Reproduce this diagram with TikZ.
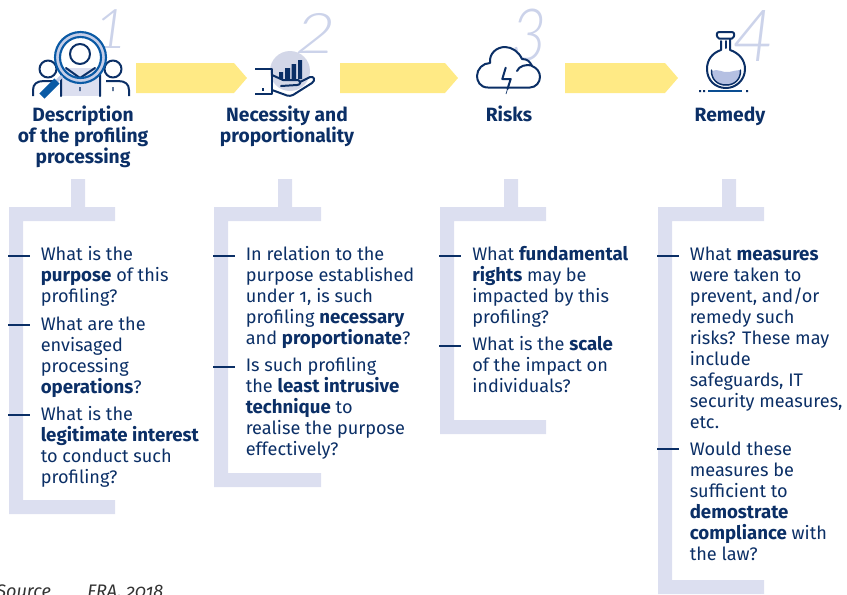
\documentclass[tikz,border=0pt]{standalone}
\usepackage{fontspec}
\setmainfont{Fira Sans}[Numbers=OldStyle,BoldFeatures={Scale=1.03}]
\newfontfamily\numfont{Lato Light Italic}
\definecolor{navy}{HTML}{0B2F66}
\definecolor{pale}{HTML}{DCDFF0}
\definecolor{yel}{HTML}{FFEA85}
\definecolor{digit}{HTML}{CCD3EA}
\definecolor{lens}{HTML}{0A5AA5}
\definecolor{lensring}{HTML}{C5CEE8}
\definecolor{halo}{HTML}{D3D7E8}
\definecolor{liquid}{HTML}{B5C0E2}
\newcommand{\fst}{\rule{0pt}{12pt}}
\tikzset{
 bodytext/.style={anchor=north west,inner sep=0pt,align=left,text=navy,font=\fontsize{13.6}{15.75}\selectfont},
 titletext/.style={anchor=north,inner sep=0pt,align=center,text=navy,font=\fontsize{14}{15.75}\selectfont\bfseries},
 tick/.style={draw=navy,line width=1.5pt},
 band/.style={fill=pale},
 flow/.style={fill=yel},
 digittext/.style={anchor=base west,inner sep=0pt,text=digit},
 ico/.style={draw=navy,line width=1.5pt,line cap=round,line join=round},
 srctext/.style={anchor=base west,inner sep=0pt,text=black!80,font=\fontsize{13.6}{15.75}\selectfont\itshape},
}
\newcommand{\bracket}[4]{% left, stub, right, bottom
 \fill[band] (#2,179) -- (#2+14,179) -- (#2+14,207) -- (#3,207) -- (#3,221) -- (#1+14,221) -- (#1+14,#4-14) -- (#3,#4-14) -- (#3,#4) -- (#1,#4) -- (#1,207) -- (#2,207) -- cycle;}
\begin{document}
\begin{tikzpicture}[x=0.75pt,y=-0.75pt]
\useasboundingbox (0,0) rectangle (847,594);
% digits
\node[digittext,font=\numfont\fontsize{41}{41}\selectfont] (d1) at (93,48.5) {\scalebox{1.1}[1]{1}};
\node[digittext,font=\numfont\fontsize{42}{42}\selectfont] (d2) at (295,53) {\scalebox{1.25}[1]{2}};
\node[digittext,font=\numfont\fontsize{54}{54}\selectfont] (d3) at (511,60) {\scalebox{0.85}[1]{3}};
\node[digittext,font=\numfont\fontsize{54}{54}\selectfont] (d4) at (732,61) {4};
% flow arrows
\fill[flow] (136,63) -- (234,63) -- (247,78) -- (234,93) -- (136,93) -- cycle;
\fill[flow] (340,63) -- (445,63) -- (458,78) -- (445,93) -- (340,93) -- cycle;
\fill[flow] (565,63) -- (665,63) -- (678,78) -- (665,93) -- (565,93) -- cycle;
% icon 1
\fill[pale] (61,68) rectangle (100,96);
\draw[ico] (61,96) -- (61,72) (100,96) -- (100,72) (66,68) -- (80,78) -- (95,68);
\draw[ico] (80,54) circle (10);
\draw[ico] (48,69) circle (8.5) (113,69) circle (8.5);
\draw[ico,line cap=butt] (33,96) -- (33,90) .. controls (33,84) and (37,81) .. (44,81) -- (56,81);
\draw[ico,line cap=butt] (129,96) -- (129,90) .. controls (129,84) and (125,81) .. (118,81) -- (106,81);
\fill[navy] (79.3,87) rectangle (80.7,91) (112.3,87) rectangle (113.7,91);
\draw[lensring,line width=3.5pt] (80.5,57.5) circle (23);
\draw[lens,line width=1.6pt] (80.5,57.5) circle (25.5) (80.5,57.5) circle (20.5);
\draw[lensring,line width=2.5pt] (62,76) -- (56,82);
\draw[lens,line width=5.5pt] (57,81) -- (42,96);
% icon 2
\fill[halo] (290,71) circle (20);
\fill[navy] (279,72) rectangle (283,79) (285,68) rectangle (290,79) (291.5,64) rectangle (296,79) (298,60) rectangle (302,79);
\draw[ico,line cap=butt] (255,69) -- (272,69) -- (272,94) -- (255,94);
\fill[navy] (261.5,88) rectangle (264,90.5);
\draw[ico] (272,75) -- (283,80) -- (298,80) .. controls (301,81) and (301,85) .. (297,85) -- (281,86);
\draw[ico] (300,82) -- (310,77) .. controls (314,76) and (316,80) .. (312,83) -- (293,95) .. controls (291,96) and (289,96) .. (287,95.5) -- (272,90);
% icon 3
\draw[ico,fill=white] (488,87.5) .. controls (480,87.5) and (477,81) .. (477,76) .. controls (477,69) and (483,63) .. (490,63) .. controls (489,53) and (497,47) .. (505,47) .. controls (512,47) and (519,52) .. (522,59) .. controls (528,59) and (530,62) .. (532,66) .. controls (537,68) and (540,72) .. (540,77) .. controls (540,82) and (536,87.5) .. (530,87.5) -- cycle;
\draw[ico] (517,71) .. controls (519,66) and (526,64) .. (532,65.5);
\draw[ico,fill=none] (505.7,67.7) -- (502.3,79) -- (510.7,79) -- (507.5,89);
\draw[navy,line width=0.5pt] (507.5,89) -- (506,94);
% icon 4
\fill[liquid] (712,71) .. controls (718,68) and (722,73) .. (729,72) .. controls (734,71) and (737,70) .. (740,70) .. controls (741,79) and (735,86) .. (726,86) .. controls (717,86) and (711,79) .. (712,71) -- cycle;
\draw[ico] (721,41) -- (721,50) .. controls (712,53) and (707,60) .. (707,69) .. controls (707,80) and (715,88) .. (726,88) .. controls (736,88) and (745,80) .. (745,69) .. controls (745,60) and (739,53) .. (730,50) -- (730,39);
\draw[ico] (719,32) -- (732,32) .. controls (735,32) and (735,37) .. (732,38.5) -- (719,38.5) .. controls (716,37) and (716,32) .. (719,32) -- cycle;
\draw[ico] (725.5,41) -- (725.5,48);
\draw[ico,line width=1.1pt] (711.5,70) .. controls (711,79) and (717,85) .. (726,85) .. controls (735,85) and (741,79) .. (740.5,70);
\draw[line width=1.5pt,draw=lens!70!navy] (708,91) -- (742,91);
\fill[navy] (699,90) rectangle (701,92) (703,90) rectangle (705,92) (746,90) rectangle (748,92);
% titles
\node[titletext] (t1) at (83,105) {\fst Description\\of the profiling\\processing};
\node[titletext] (t2) at (287,105) {\fst Necessity and\\proportionality};
\node[titletext] (t3) at (509,105) {\fst Risks};
\node[titletext] (t4) at (730,105) {\fst Remedy};
% brackets
\bracket{9}{71}{115}{514}
\bracket{214}{278}{321}{487}
\bracket{440}{504}{546}{434}
\bracket{658}{722}{764}{594}
% ticks
\foreach \nm/\xa/\ya in {a/8/256,b/8/325,c/8/415,d/213/256,e/213/367,f/439/256,g/439/346,h/657/256,i/657/449}{
 \coordinate (s\nm) at (\xa,\ya);
 \coordinate (e\nm) at (\xa+22,\ya);
 \draw[tick] (s\nm) -- (e\nm);
}
% body text
\node[bodytext] (a) at (40.5,244) {\fst What is the\\\textbf{purpose} of this\\profiling?};
\node[bodytext] (b) at (40.5,314) {\fst What are the\\envisaged\\processing\\\textbf{operations}?};
\node[bodytext] (c) at (40.5,404) {\fst What is the\\\textbf{legitimate interest}\\to conduct such\\profiling?};
\node[bodytext] (d) at (245.5,244) {\fst In relation to the\\purpose established\\under 1, is such\\profiling \textbf{necessary}\\and \textbf{proportionate}?};
\node[bodytext] (e) at (245.5,355) {\fst Is such profiling\\the \textbf{least intrusive}\\\textbf{technique} to\\realise the purpose\\effectively?};
\node[bodytext] (f) at (472,244) {\fst What \textbf{fundamental}\\\textbf{rights} may be\\impacted by this\\profiling?};
\node[bodytext] (g) at (472,334) {\fst What is the \textbf{scale}\\of the impact on\\individuals?};
\node[bodytext] (h) at (689.5,244) {\fst What \textbf{measures}\\were taken to\\prevent, and/or\\remedy such\\risks? These may\\include\\safeguards, IT\\security measures,\\etc.};
\node[bodytext] (i) at (689.5,439) {\fst Would these\\measures be\\sufficient to\\\textbf{demostrate}\\\textbf{compliance} with\\the law?};
% source
\node[srctext] (src) at (-4,597) {Source};
\node[srctext] (srcb) at (87,597) {FRA, 2018};
\end{tikzpicture}
\end{document}
